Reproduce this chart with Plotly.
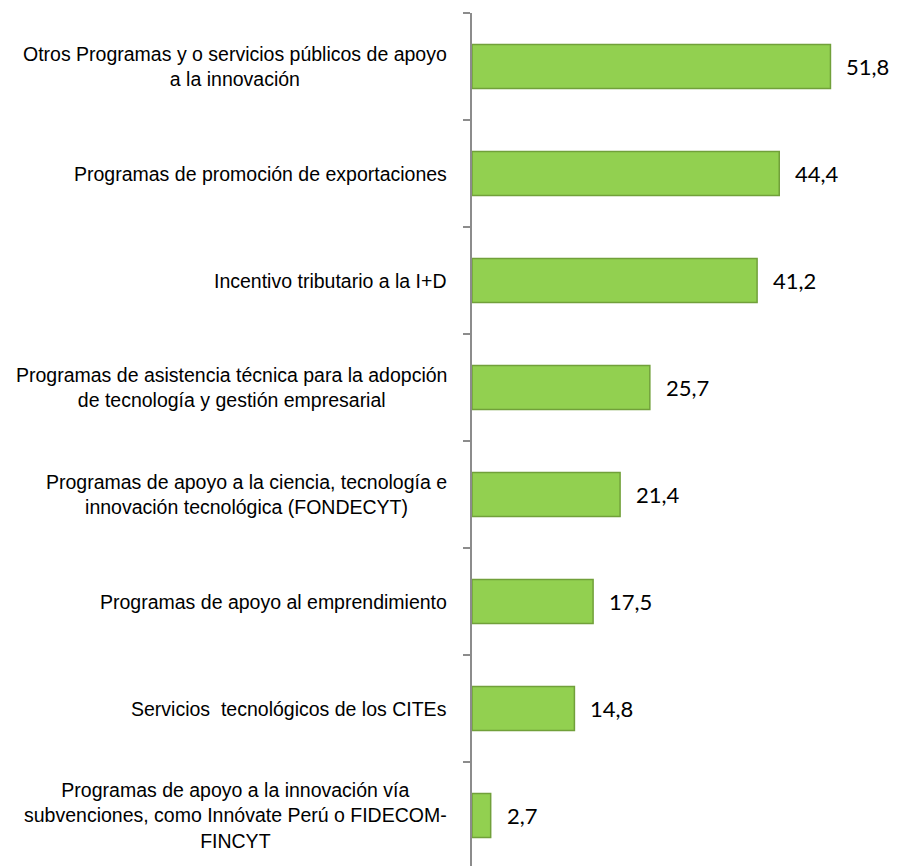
import plotly.graph_objects as go

categories = [
    "Otros Programas y o servicios públicos de apoyo<br>a la innovación",
    "Programas de promoción de exportaciones",
    "Incentivo tributario a la I+D",
    "Programas de asistencia técnica para la adopción<br>de tecnología y gestión empresarial",
    "Programas de apoyo a la ciencia, tecnología e<br>innovación tecnológica (FONDECYT)",
    "Programas de apoyo al emprendimiento",
    "Servicios  tecnológicos de los CITEs",
    "Programas de apoyo a la innovación vía<br>subvenciones, como Innóvate Perú o FIDECOM-<br>FINCYT",
]
values = [51.8, 44.4, 41.2, 25.7, 21.4, 17.5, 14.8, 2.7]

# page body has an 8px margin
W, H = 889, 858
LEFT, TOP = 464, 5

fig = go.Figure()
fig.add_trace(go.Bar(
    x=values,
    y=categories,
    orientation="h",
    width=0.41,
    marker=dict(color="#92D050", line=dict(color="#71A03A", width=1.5)),
    hoverinfo="x+y",
))

annotations = []
for c, v in zip(categories, values):
    annotations.append(dict(
        x=0, xref="paper", y=c, yref="y",
        text=c.replace("  ", "&nbsp; "), showarrow=False,
        xanchor="right", yanchor="middle", align="center", xshift=-23,
        font=dict(family="Liberation Sans, Arial, sans-serif",
                  size=19.5, color="#000000"),
    ))
    annotations.append(dict(
        x=v, xref="x", y=c, yref="y",
        text=f"{v:.1f}".replace(".", ","), showarrow=False,
        xanchor="left", yanchor="middle", xshift=14,
        font=dict(family="Lato, Carlito, Open Sans, sans-serif", size=22, color="#000000"),
    ))

plot_h = H - TOP
n_bands = plot_h / 107.0

fig.update_layout(
    width=W, height=H,
    margin=dict(l=LEFT, r=0, t=TOP, b=0, pad=0),
    paper_bgcolor="white", plot_bgcolor="white",
    showlegend=False,
    annotations=annotations,
    xaxis=dict(range=[0, (W - LEFT) / 6.92], visible=False, fixedrange=True),
    yaxis=dict(
        type="category",
        categoryorder="array", categoryarray=categories,
        range=[-0.5 + n_bands, -0.5],
        showticklabels=False,
        showline=True, linecolor="#8C8C8C", linewidth=1.5,
        ticks="outside", ticklen=7, tickcolor="#8C8C8C", tickwidth=1.5,
        tickson="boundaries",
        showgrid=False, zeroline=False, fixedrange=True,
    ),
)

fig.write_html("out.html")
